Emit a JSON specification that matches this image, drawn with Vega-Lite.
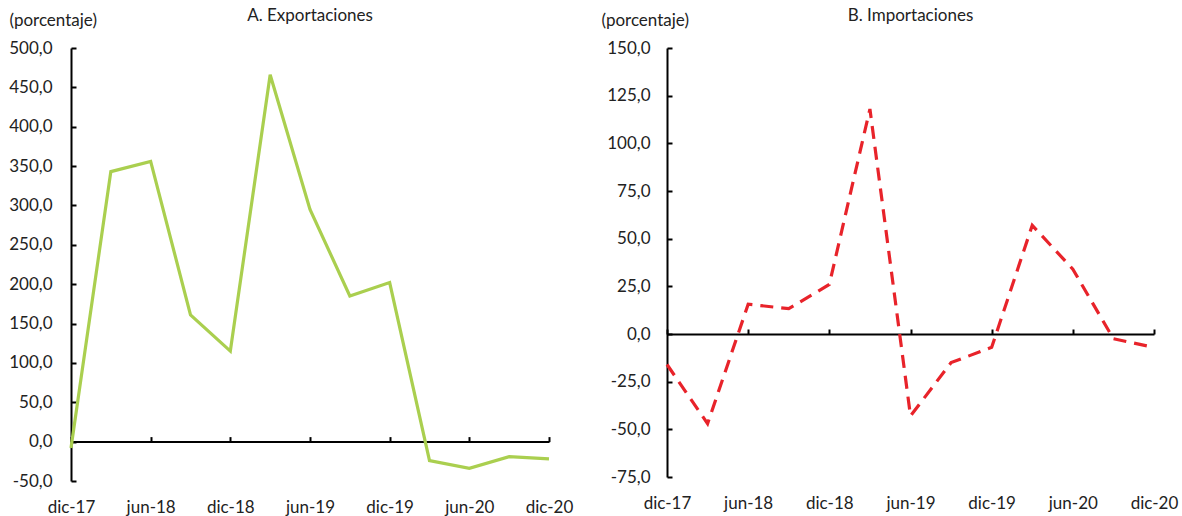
{
  "$schema": "https://vega.github.io/schema/vega-lite/v6.json",
  "padding": {"left": 8, "top": 7, "right": 5, "bottom": 2},
  "config": {
    "view": {"stroke": null},
    "font": "Lato",
    "title": {"fontSize": 17, "fontWeight": "normal", "color": "#222222", "font": "Lato"},
    "axis": {
      "grid": false,
      "domainColor": "#000000",
      "domainWidth": 2,
      "tickColor": "#000000",
      "tickWidth": 2,
      "tickSize": -5,
      "labelFontSize": 17,
      "labelColor": "#222222",
      "labelFont": "Lato",
      "titleFont": "Lato",
      "titleFontSize": 17,
      "titleFontWeight": "normal",
      "titleColor": "#222222"
    }
  },
  "spacing": 28,
  "hconcat": [
    {
      "width": 478,
      "height": 433,
      "title": {"text": "A. Exportaciones", "anchor": "middle", "offset": -14},
      "data": {"values": [
        {"i": 0, "periodo": "dic-17", "valor": -8},
        {"i": 1, "periodo": "mar-18", "valor": 343},
        {"i": 2, "periodo": "jun-18", "valor": 356},
        {"i": 3, "periodo": "sep-18", "valor": 161},
        {"i": 4, "periodo": "dic-18", "valor": 115},
        {"i": 5, "periodo": "mar-19", "valor": 466},
        {"i": 6, "periodo": "jun-19", "valor": 295},
        {"i": 7, "periodo": "sep-19", "valor": 185},
        {"i": 8, "periodo": "dic-19", "valor": 202},
        {"i": 9, "periodo": "mar-20", "valor": -24},
        {"i": 10, "periodo": "jun-20", "valor": -34},
        {"i": 11, "periodo": "sep-20", "valor": -19},
        {"i": 12, "periodo": "dic-20", "valor": -22}
      ]},
      "mark": {"type": "line", "color": "#AACF4F", "strokeWidth": 3.2},
      "encoding": {
        "x": {
          "field": "i", "type": "quantitative",
          "scale": {"domain": [0, 12], "nice": false, "zero": false},
          "axis": {
            "values": [0, 2, 4, 6, 8, 10, 12],
            "labelExpr": "['dic-17','jun-18','dic-18','jun-19','dic-19','jun-20','dic-20'][datum.value/2]",
            "title": null,
            "offset": -39.4,
            "labelPadding": 63,
            "labelFlush": false,
            "labelAngle": 0
          }
        },
        "y": {
          "field": "valor", "type": "quantitative",
          "scale": {"domain": [-50, 500], "nice": false},
          "axis": {
            "values": [-50, 0, 50, 100, 150, 200, 250, 300, 350, 400, 450, 500],
            "labelExpr": "(datum.value < 0 ? '-' : '') + replace(format(abs(datum.value), '.1f'), '.', ',')",
            "labelPadding": 24,
            "title": "(porcentaje)",
            "titleAngle": 0,
            "titleAlign": "left",
            "titleBaseline": "alphabetic",
            "titleX": -62,
            "titleY": -23
          }
        }
      }
    },
    {
      "width": 487,
      "height": 429,
      "title": {"text": "B. Importaciones", "anchor": "middle", "offset": -14},
      "data": {"values": [
        {"i": 0, "periodo": "dic-17", "valor": -16},
        {"i": 1, "periodo": "mar-18", "valor": -47},
        {"i": 2, "periodo": "jun-18", "valor": 15.6},
        {"i": 3, "periodo": "sep-18", "valor": 13.3},
        {"i": 4, "periodo": "dic-18", "valor": 26},
        {"i": 5, "periodo": "mar-19", "valor": 118},
        {"i": 6, "periodo": "jun-19", "valor": -43},
        {"i": 7, "periodo": "sep-19", "valor": -15},
        {"i": 8, "periodo": "dic-19", "valor": -7},
        {"i": 9, "periodo": "mar-20", "valor": 57},
        {"i": 10, "periodo": "jun-20", "valor": 34},
        {"i": 11, "periodo": "sep-20", "valor": -2.5},
        {"i": 12, "periodo": "dic-20", "valor": -7}
      ]},
      "mark": {"type": "line", "color": "#E8232A", "strokeWidth": 3.2, "strokeDash": [13, 8]},
      "encoding": {
        "x": {
          "field": "i", "type": "quantitative",
          "scale": {"domain": [0, 12], "nice": false, "zero": false},
          "axis": {
            "values": [0, 2, 4, 6, 8, 10, 12],
            "labelExpr": "['dic-17','jun-18','dic-18','jun-19','dic-19','jun-20','dic-20'][datum.value/2]",
            "title": null,
            "offset": -143,
            "labelPadding": 166,
            "labelFlush": false,
            "labelAngle": 0
          }
        },
        "y": {
          "field": "valor", "type": "quantitative",
          "scale": {"domain": [-75, 150], "nice": false},
          "axis": {
            "values": [-75, -50, -25, 0, 25, 50, 75, 100, 125, 150],
            "labelExpr": "(datum.value < 0 ? '-' : '') + replace(format(abs(datum.value), '.1f'), '.', ',')",
            "labelPadding": 22,
            "title": "(porcentaje)",
            "titleAngle": 0,
            "titleAlign": "left",
            "titleBaseline": "alphabetic",
            "titleX": -66,
            "titleY": -23
          }
        }
      }
    }
  ]
}
